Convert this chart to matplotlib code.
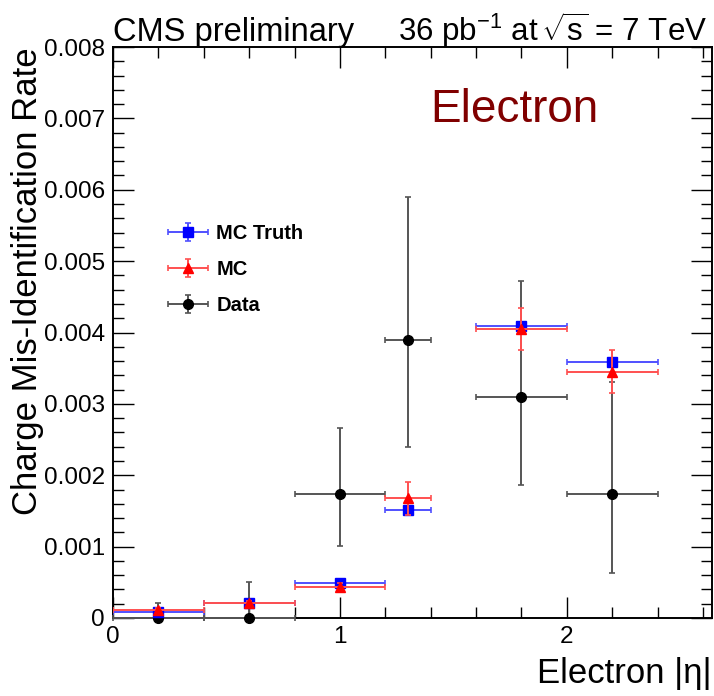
import matplotlib
matplotlib.use("Agg")
import matplotlib.pyplot as plt
from matplotlib.ticker import MultipleLocator, FixedLocator
from matplotlib.legend_handler import HandlerErrorbar

plt.rcParams['font.family'] = ['Liberation Sans', 'DejaVu Sans']
plt.rcParams['mathtext.fontset'] = 'custom'
plt.rcParams['mathtext.rm'] = 'Liberation Sans'
plt.rcParams['mathtext.it'] = 'Liberation Sans'

# ---- data ----
eta_centers = [0.2, 0.6, 1.0, 1.3, 1.8, 2.2]
eta_halfwidth = [0.2, 0.2, 0.2, 0.1, 0.2, 0.2]

mc_truth = [0.00008, 0.00021, 0.00049, 0.00152, 0.00409, 0.00358]
mc_truth_err = [0.00002, 0.00002, 0.00003, 0.00004, 0.00006, 0.00006]

mc = [0.00011, 0.00021, 0.00043, 0.00168, 0.00405, 0.00345]
mc_err = [0.00003, 0.00003, 0.00006, 0.00023, 0.00029, 0.00030]

data = [0.0, 0.0, 0.00174, 0.00389, 0.00310, 0.00174]
data_err_low = [0.0, 0.0, 0.00073, 0.00149, 0.00123, 0.00111]
data_err_high = [0.00021, 0.00051, 0.00092, 0.00201, 0.00162, 0.00156]

x_ticks = [0, 1, 2]
x_ticklabels = ['0', '1', '2']
y_ticks = [0, 0.001, 0.002, 0.003, 0.004, 0.005, 0.006, 0.007, 0.008]
y_ticklabels = ['0', '0.001', '0.002', '0.003', '0.004', '0.005', '0.006', '0.007', '0.008']

fig = plt.figure(figsize=(7.14, 6.96), dpi=100)
ax = fig.add_axes([113/714, 1-618/696, (712-113)/714, (618-47)/696])

ax.errorbar(eta_centers, data, xerr=eta_halfwidth, yerr=[data_err_low, data_err_high],
            fmt='o', color='black', ecolor='#555555', markersize=7, elinewidth=1.4,
            capsize=2, capthick=1.2, label='Data', clip_on=False, zorder=3)
ax.errorbar(eta_centers, mc_truth, xerr=eta_halfwidth, yerr=mc_truth_err,
            fmt='s', color='#0000ff', ecolor='#5050ff', markersize=7, elinewidth=1.4,
            capsize=2, capthick=1.2, label='MC Truth', zorder=4)
ax.errorbar(eta_centers, mc, xerr=eta_halfwidth, yerr=mc_err,
            fmt='^', color='#ff0000', ecolor='#ff5050', markersize=7, elinewidth=1.4,
            capsize=2, capthick=1.2, label='MC', zorder=5)

ax.set_xlim(0, 2.64)
ax.set_ylim(0, 0.008)

ax.xaxis.set_major_locator(FixedLocator(x_ticks))
ax.xaxis.set_minor_locator(MultipleLocator(0.2))
ax.yaxis.set_major_locator(FixedLocator(y_ticks))
ax.yaxis.set_minor_locator(MultipleLocator(0.0002))
ax.set_xticklabels(x_ticklabels)
ax.set_yticklabels(y_ticklabels)

ax.tick_params(which='both', direction='in', top=True, right=True, labelsize=17.5, width=1.0)
ax.tick_params(which='major', length=15, pad=6)
ax.tick_params(which='minor', length=8)
for s in ax.spines.values():
    s.set_linewidth(1.4)

ax.set_xlabel('Electron |η|', fontsize=25, loc='right', labelpad=6)
ax.set_ylabel('Charge Mis-Identification Rate', fontsize=25, loc='top', labelpad=0)

fig.text(113/714, 1-41/696, 'CMS preliminary', fontsize=23.5, ha='left', va='baseline')
fig.text(707/714, 1-41/696, r'36 pb$^{-1}$ at$\,\sqrt{s}$ = 7 TeV', fontsize=22.5,
         ha='right', va='baseline')
fig.text(430/714, 1-122/696, 'Electron', fontsize=33, color='#800000', ha='left', va='baseline')

handles, labels = ax.get_legend_handles_labels()
order = [1, 2, 0]
leg = ax.legend([handles[i] for i in order], [labels[i] for i in order],
                loc='upper left', bbox_to_anchor=((160-113)/599, (618-216)/571),
                frameon=False, prop={'weight': 'bold', 'size': 14.5},
                handlelength=2.0, handletextpad=0.4, labelspacing=0.85, borderaxespad=0,
                handler_map={type(handles[0]): HandlerErrorbar(xerr_size=1.0, yerr_size=0.45)})

fig.savefig('out.png', dpi=100)
